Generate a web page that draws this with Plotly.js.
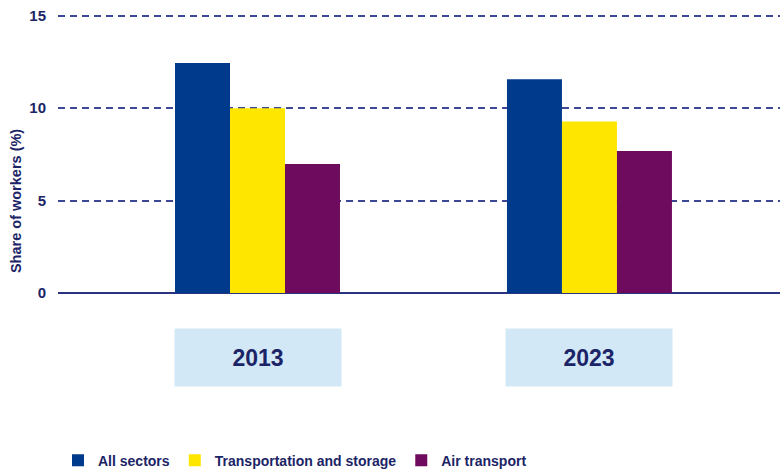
<!DOCTYPE html>
<html><head><meta charset="utf-8">
<script src="https://cdn.plot.ly/plotly-3.0.1.min.js"></script>
<style>body{margin:0;background:#fff}#c{width:780px;height:470px}</style>
</head><body><div id="c"></div>
<script>
const years = ['2013', '2023'];
const seriesNames = ['All sectors', 'Transportation and storage', 'Air transport'];
const allSectors = [12.45, 11.57];
const transportStorage = [10.0, 9.28];
const airTransport = [6.98, 7.68];
const yTicks = [0, 5, 10, 15];

const colors = ['#003a8c', '#ffe600', '#6e0b5e'];
const navy = '#1b2466';
const font = {family: 'Liberation Sans, Arial, sans-serif', color: navy, weight: 'bold'};

const values = [allSectors, transportStorage, airTransport];
const traces = seriesNames.map((n, i) => ({
  type: 'bar', name: n, x: years, y: values[i],
  marker: {color: colors[i], line: {width: 0}},
  hoverinfo: 'y'
}));

const annotations = years.map((y, i) => ({
  x: i, xref: 'x', y: -0.23, yref: 'paper', yanchor: 'middle',
  text: y, showarrow: false, width: 164, height: 55, bgcolor: '#d3e8f6',
  font: Object.assign({}, font, {size: 23})
}));
annotations.push({
  text: 'Share of workers (%)', textangle: -90, showarrow: false,
  xref: 'paper', yref: 'paper', x: -0.058, y: 0.33, xanchor: 'center', yanchor: 'middle',
  font: Object.assign({}, font, {size: 14.5})
});

const layout = {
  width: 780, height: 470,
  margin: {l: 58, r: 0, t: 14, b: 177},
  paper_bgcolor: '#fff', plot_bgcolor: '#fff',
  barmode: 'group', bargap: 0.503, bargroupgap: 0,
  font: font,
  xaxis: {type: 'category', range: [-0.601, 1.574], showticklabels: false, showgrid: false,
          zeroline: false, showline: false, ticks: '', fixedrange: true},
  yaxis: {range: [0, 15.1], tickvals: yTicks, showgrid: true, gridcolor: '#3d4894', gridwidth: 2,
          griddash: '7px,5px', zeroline: true, zerolinecolor: '#2a3380', zerolinewidth: 2,
          ticks: 'outside', ticklen: 8, tickcolor: 'rgba(0,0,0,0)',
          tickfont: Object.assign({}, font, {size: 15})},
  legend: {orientation: 'h', x: 0, xanchor: 'left', yref: 'container', y: 0.054, yanchor: 'top',
           font: Object.assign({}, font, {size: 14}), itemwidth: 30, tracegroupgap: 0},
  annotations: annotations,
  showlegend: true
};
Plotly.newPlot('c', traces, layout, {displayModeBar: false, staticPlot: true});
</script></body></html>
